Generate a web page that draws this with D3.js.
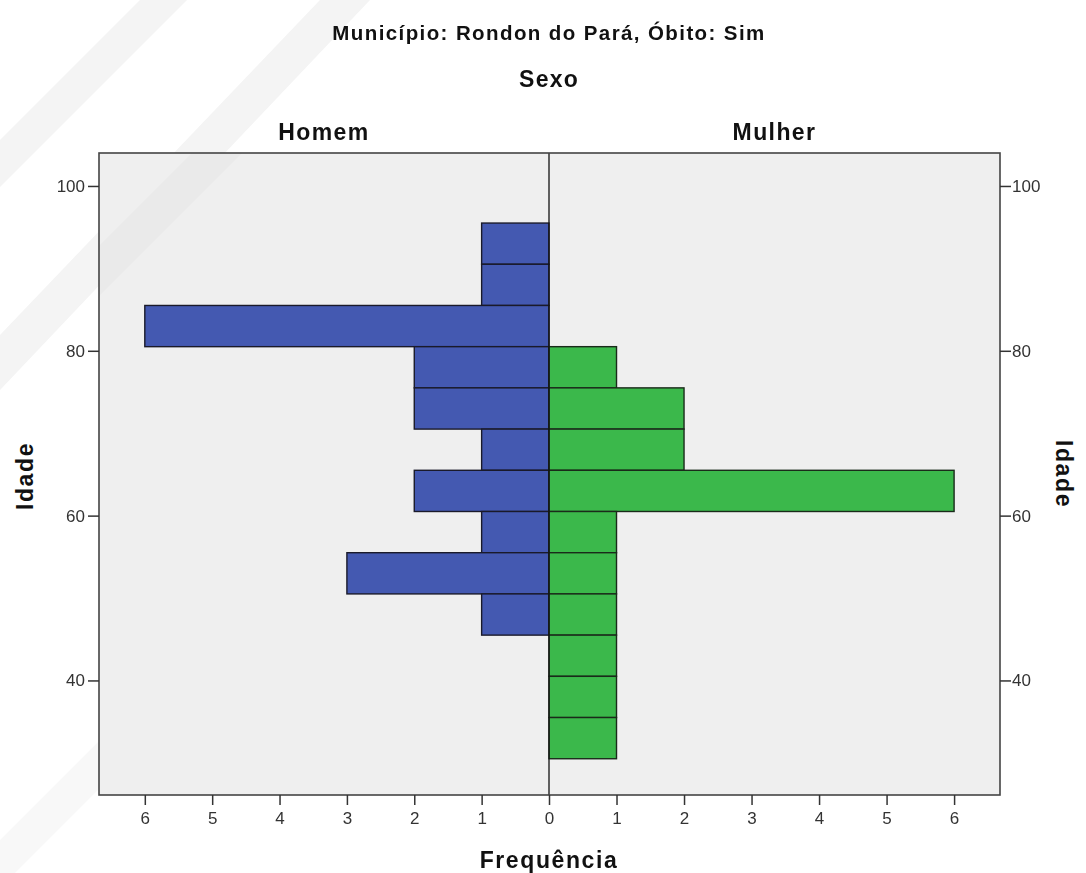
<!DOCTYPE html>
<html>
<head>
<meta charset="utf-8">
<script src="https://cdn.jsdelivr.net/npm/d3@7/dist/d3.min.js"></script>
<style>
  html, body { margin: 0; padding: 0; background: #ffffff; }
  svg { display: block; }
</style>
</head>
<body>
<svg id="chart" width="1086" height="873"></svg>
<script>
// ---- Data ----
const title = "Município: Rondon do Pará, Óbito: Sim";
const panelTitle = "Sexo";
const groups = ["Homem", "Mulher"];
// age bins (lower, upper edges), top to bottom
const binLower = [90.5, 85.5, 80.5, 75.5, 70.5, 65.5, 60.5, 55.5, 50.5, 45.5, 40.5, 35.5, 30.5];
const binUpper = [95.5, 90.5, 85.5, 80.5, 75.5, 70.5, 65.5, 60.5, 55.5, 50.5, 45.5, 40.5, 35.5];
const homem  = [1, 1, 6, 2, 2, 1, 2, 1, 3, 1, 0, 0, 0];
const mulher = [0, 0, 0, 1, 2, 2, 6, 1, 1, 1, 1, 1, 1];
const yTicks = [40, 60, 80, 100];
const xTicks = [0, 1, 2, 3, 4, 5, 6];
const xLabel = "Frequência";
const yLabel = "Idade";

// ---- Layout ----
const svg = d3.select("#chart");
const plot = { left: 99, right: 1000, top: 153, bottom: 795 };
const mid = 549;
const font = "'Liberation Sans', Arial, sans-serif";
const blue = "#4459b1", green = "#3bb84b";

// watermark stripes
const wm = svg.append("g").attr("fill", "#e8e8e8").attr("opacity", 0.5);
wm.append("path").attr("d", "M0,140 L140,0 L187,0 L0,187 Z");
wm.append("path").attr("d", "M0,335 L320,0 L370,0 L0,390 Z");
wm.append("path").attr("d", "M0,840 L99,741 L99,789 L0,888 Z").attr("opacity", 0.6);

const y = d3.scaleLinear().domain([26.1, 104]).range([plot.bottom, plot.top]);
const xL = d3.scaleLinear().domain([0, 6.68]).range([mid, plot.left]);
const xR = d3.scaleLinear().domain([0, 6.68]).range([mid, plot.right]);

// plot background
svg.append("rect")
  .attr("x", plot.left).attr("y", plot.top)
  .attr("width", plot.right - plot.left).attr("height", plot.bottom - plot.top)
  .attr("fill", "#efefef");

// faint stripe over plot area
svg.append("path").attr("d", "M99,246 L192,153 L242,153 L99,296 Z").attr("fill", "#e5e5e5").attr("opacity", 0.5);

// bars
const rows = binLower.map((lo, i) => ({ lo, hi: binUpper[i], h: homem[i], m: mulher[i] }));
svg.append("g").selectAll("rect").data(rows.filter(d => d.h > 0)).join("rect")
  .attr("x", d => xL(d.h)).attr("y", d => y(d.hi))
  .attr("width", d => xL(0) - xL(d.h)).attr("height", d => y(d.lo) - y(d.hi))
  .attr("fill", blue).attr("stroke", "#1a1a2a").attr("stroke-width", 1.4);
svg.append("g").selectAll("rect").data(rows.filter(d => d.m > 0)).join("rect")
  .attr("x", mid).attr("y", d => y(d.hi))
  .attr("width", d => xR(d.m) - mid).attr("height", d => y(d.lo) - y(d.hi))
  .attr("fill", green).attr("stroke", "#1a2a1a").attr("stroke-width", 1.4);

// center line
svg.append("line").attr("x1", mid).attr("x2", mid).attr("y1", plot.top).attr("y2", plot.bottom)
  .attr("stroke", "#111").attr("stroke-width", 1.3);

// plot border
svg.append("rect")
  .attr("x", plot.left).attr("y", plot.top)
  .attr("width", plot.right - plot.left).attr("height", plot.bottom - plot.top)
  .attr("fill", "none").attr("stroke", "#444").attr("stroke-width", 1.6);

function styleAxis(g) {
  g.select(".domain").remove();
  g.selectAll(".tick line").attr("stroke", "#333").attr("stroke-width", 1.5);
  g.selectAll(".tick text").attr("fill", "#333").style("font-family", font).style("font-size", "17px");
}
const fmt = d3.format("d");

// y axes
svg.append("g").attr("transform", `translate(${plot.left},0)`)
  .call(d3.axisLeft(y).tickValues(yTicks).tickFormat(fmt).tickSize(11).tickPadding(3))
  .call(styleAxis);
svg.append("g").attr("transform", `translate(${plot.right},0)`)
  .call(d3.axisRight(y).tickValues(yTicks).tickFormat(fmt).tickSize(11).tickPadding(1))
  .call(styleAxis);

// x axes
svg.append("g").attr("transform", `translate(0,${plot.bottom})`)
  .call(d3.axisBottom(xL).tickValues(xTicks).tickFormat(fmt).tickSize(10).tickPadding(7))
  .call(styleAxis);
svg.append("g").attr("transform", `translate(0,${plot.bottom})`)
  .call(d3.axisBottom(xR).tickValues(xTicks.filter(v => v > 0)).tickFormat(fmt).tickSize(10).tickPadding(7))
  .call(styleAxis);

// titles
const tBold = (x, yy, txt, size, ls) => svg.append("text").attr("x", x).attr("y", yy)
  .attr("text-anchor", "middle").attr("fill", "#111")
  .style("font-family", font).style("font-weight", "bold").style("font-size", size + "px")
  .attr("letter-spacing", ls + "px").text(txt);

tBold(mid, 40, title, 20.5, 1.4);
tBold(mid, 87, panelTitle, 23, 1.2);
tBold((plot.left + mid) / 2, 140, groups[0], 23, 1.4);
tBold((mid + plot.right) / 2, 140, groups[1], 23, 1.4);
tBold(mid, 868, xLabel, 23, 1.6);

svg.append("text").attr("transform", `translate(33,476) rotate(-90)`)
  .attr("text-anchor", "middle").attr("fill", "#111")
  .style("font-family", font).style("font-weight", "bold").style("font-size", "23px")
  .attr("letter-spacing", "1.6px").text(yLabel);
svg.append("text").attr("transform", `translate(1056,474) rotate(90)`)
  .attr("text-anchor", "middle").attr("fill", "#111")
  .style("font-family", font).style("font-weight", "bold").style("font-size", "23px")
  .attr("letter-spacing", "1.6px").text(yLabel);
</script>
</body>
</html>
